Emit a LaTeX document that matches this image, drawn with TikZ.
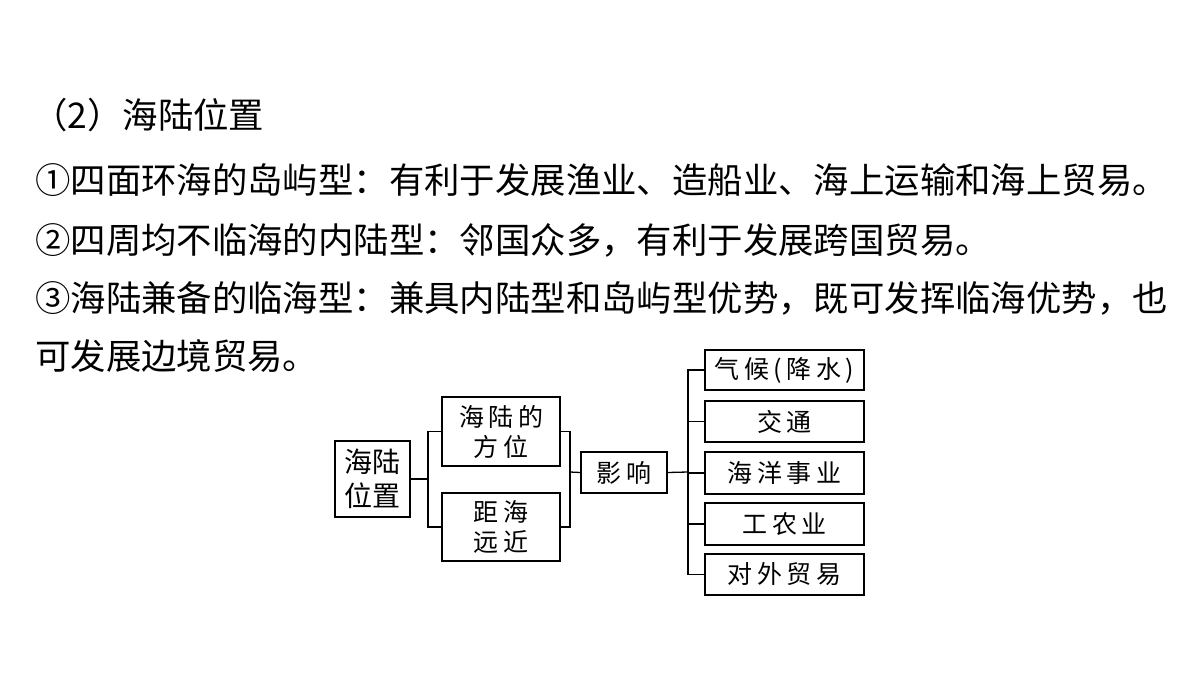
\documentclass[tikz,border=0pt]{standalone}
\usepackage{fontspec}
\setmainfont{Noto Sans CJK SC}
\newfontfamily\cjkd[LetterSpace=18]{Noto Sans CJK SC}
\usepackage{tikz}

\tikzset{
	line/.style={line width=1.3pt},
	box/.style={draw,line width=1.3pt,inner sep=0pt,font=\fontsize{25}{30}\cjkd,align=center},
	txt/.style={anchor=west,inner sep=0pt,font=\fontsize{35.4}{40}\selectfont}
}

\begin{document}
\begin{tikzpicture}[x=1pt,y=-1pt]
	\useasboundingbox[fill=white] (0,0) rectangle (1200,675);
	
	\node[txt] (t0) at (32,115) {（2）海陆位置};
	\node[txt] (t1) at (35,180) {①四面环海的岛屿型：有利于发展渔业、造船业、海上运输和海上贸易。};
	\node[txt] (t2) at (35,240) {②四周均不临海的内陆型：邻国众多，有利于发展跨国贸易。};
	\node[txt] (t3) at (35,298) {③海陆兼备的临海型：兼具内陆型和岛屿型优势，既可发挥临海优势，也};
	\node[txt] (t4) at (35,356) {可发展边境贸易。};
	
	\node[box,minimum width=75,minimum height=76,font=\fontsize{28}{34}\selectfont] (pos) at (372.5,479) {海陆\\位置};
	\node[box,minimum width=118,minimum height=69] (dir) at (501,431.5) {海陆的\\方位};
	\node[box,minimum width=118,minimum height=68] (dist) at (501,527) {距海\\远近};
	\node[box,minimum width=86,minimum height=41] (eff) at (624,472.5) {影响};
	\node[box,minimum width=159,minimum height=40] (r1) at (784.5,370) {气候(降水)};
	\node[box,minimum width=159,minimum height=41] (r2) at (784.5,421.5) {交通};
	\node[box,minimum width=159,minimum height=42] (r3) at (784.5,473) {海洋事业};
	\node[box,minimum width=159,minimum height=42] (r4) at (784.5,524) {工农业};
	\node[box,minimum width=159,minimum height=41] (r5) at (784.5,574.5) {对外贸易};
	
	\coordinate (lb) at (428,479);
	\coordinate (rb) at (570,472);
	\coordinate (tr) at (688,472);
	
	% brackets
	\draw[line] (pos.east) -- (lb);
	\draw[line] (dir.west) -| (lb) |- (dist.west);
	\draw[line] (dir.east) -| (rb) |- (dist.east);
	\draw[line] (rb) -- (eff.west);
	\draw[line] (eff.east) -- (tr);
	\draw[line] (r1.west) -| (tr) |- (r5.west);
	\foreach \n in {r2,r3,r4}
		\draw[line] (\n.west) -- (tr |- \n.west);
\end{tikzpicture}
\end{document}
